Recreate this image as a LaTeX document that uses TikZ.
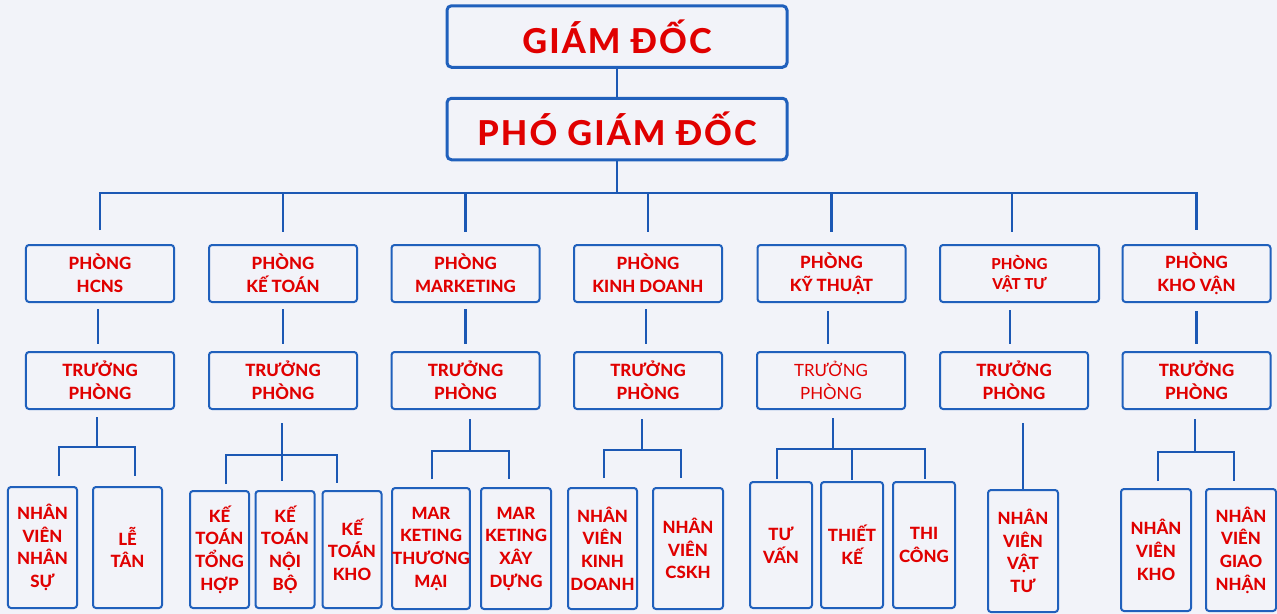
\documentclass[tikz,border=0pt]{standalone}
\usepackage{fontspec}
\setmainfont{Lato}[BoldFont={Lato Heavy}]
\usepackage{tikz}
\usetikzlibrary{math}
\usetikzlibrary{calc}

\definecolor{bgcol}{HTML}{F2F3F9}
\definecolor{boxblue}{HTML}{2060BC}
\definecolor{wireblue}{HTML}{1C58B4}
\definecolor{txtred}{HTML}{E00000}

\begin{document}
\begin{tikzpicture}[x=0.2mm,y=-0.2mm,line width=0.5mm,
  box/.style={draw=boxblue, line width=0.4mm, rounded corners=0.6mm,
    text=txtred, align=center, inner sep=0pt,
    font=\fontsize{9.6}{12.9}\selectfont\bfseries},
  topbox/.style={box, line width=0.6mm, rounded corners=0.9mm,
    minimum width=68mm, minimum height=12.3mm,
    font=\fontsize{19.5}{22}\selectfont\bfseries\addfontfeatures{LetterSpace=6}},
  deptbox/.style={box, minimum width=29.6mm, minimum height=11.4mm},
  staffbox/.style={box, minimum width=14mm, minimum height=24.2mm},
  wire/.style={draw=wireblue, line width=0.5mm}]

  \tikzmath{
    \rowone = 273.5; % centre of the departments
    \rowtwo = 380.5; % centre of the heads
    \rowkt  = 549.5; % centre of the accounting staff
    \rowmk  = 548.5; % centre of marketing and sales staff
    \rowkv  = 550;   % centre of warehouse staff
  }

  % background and frame of the page
  \fill[bgcol] (0,0) rectangle (1277,614);
  \useasboundingbox (0,0) rectangle (1277,614);

  % board
  \node[topbox] (gd)  at (617,36.5) {GIÁM ĐỐC};
  \node[topbox] (pgd) at (617,129)  {PHÓ GIÁM ĐỐC};

  % departments
  \node[deptbox] (ph1) at (100,\rowone)    {PHÒNG\\HCNS};
  \node[deptbox] (ph2) at (283,\rowone)    {PHÒNG\\KẾ TOÁN};
  \node[deptbox] (ph3) at (465.5,\rowone)  {PHÒNG\\MARKETING};
  \node[deptbox] (ph4) at (648,\rowone)    {PHÒNG\\KINH DOANH};
  \node[deptbox] (ph5) at (831.5,\rowone)  {PHÒNG\\KỸ THUẬT};
  \node[deptbox, minimum width=31.8mm, font=\fontsize{8.6}{11.5}\selectfont\bfseries]
    (ph6) at (1019.5,\rowone) {PHÒNG\\VẬT TƯ};
  \node[deptbox] (ph7) at (1196.5,\rowone) {PHÒNG\\KHO VẬN};

  % heads of department
  \node[deptbox] (tp1) at (100,\rowtwo)    {TRƯỞNG\\PHÒNG};
  \node[deptbox] (tp2) at (283,\rowtwo)    {TRƯỞNG\\PHÒNG};
  \node[deptbox] (tp3) at (465.5,\rowtwo)  {TRƯỞNG\\PHÒNG};
  \node[deptbox] (tp4) at (648,\rowtwo)    {TRƯỞNG\\PHÒNG};
  \node[deptbox, font=\fontsize{9.6}{12.9}\selectfont]
    (tp5) at (831,\rowtwo) {TRƯỞNG\\PHÒNG};
  \node[deptbox] (tp6) at (1014,\rowtwo)   {TRƯỞNG\\PHÒNG};
  \node[deptbox] (tp7) at (1196.5,\rowtwo) {TRƯỞNG\\PHÒNG};

  % staff
  \node[staffbox, minimum width=13.8mm] (nv1) at (42.5,547.5)  {NHÂN\\VIÊN\\NHÂN\\SỰ};
  \node[staffbox, minimum width=13.8mm] (lt1) at (127.5,547.5) {LỄ\\TÂN};

  \node[staffbox, minimum width=11.8mm, minimum height=23.4mm] (kt1) at (219.5,\rowkt) {KẾ\\TOÁN\\TỔNG\\HỢP};
  \node[staffbox, minimum width=11.8mm, minimum height=23.4mm] (kt2) at (285,\rowkt)   {KẾ\\TOÁN\\NỘI\\BỘ};
  \node[staffbox, minimum width=11.8mm, minimum height=23.4mm] (kt3) at (352,\rowkt)   {KẾ\\TOÁN\\KHO};

  \node[staffbox] (mk1) at (431,\rowmk) {MAR\\KETING\\THƯƠNG\\MẠI};
  \node[staffbox] (mk2) at (516,\rowmk) {MAR\\KETING\\XÂY\\DỰNG};

  \node[staffbox, minimum width=13.8mm] (kd1) at (602.5,\rowmk) {NHÂN\\VIÊN\\KINH\\DOANH};
  \node[staffbox] (kd2) at (688,\rowmk) {NHÂN\\VIÊN\\CSKH};

  \node[staffbox, minimum width=12.4mm, minimum height=25.2mm] (tv) at (781,545) {TƯ\\VẤN};
  \node[staffbox, minimum width=12.4mm, minimum height=25.2mm] (tk) at (852,545) {THIẾT\\KẾ};
  \node[staffbox, minimum width=12.4mm, minimum height=25.2mm] (tc) at (924,545) {THI\\CÔNG};

  \node[staffbox, minimum height=24.4mm] (vt1) at (1023,551) {NHÂN\\VIÊN\\VẬT\\TƯ};

  \node[staffbox, minimum height=24.4mm] (kv1) at (1156,\rowkv) {NHÂN\\VIÊN\\KHO};
  \node[staffbox, minimum height=24.4mm] (kv2) at (1241,\rowkv) {NHÂN\\VIÊN\\GIAO\\NHẬN};

  % board to departments
  \coordinate (bus) at (617,193);
  \draw[wire] (gd) -- (pgd);
  \draw[wire] (pgd) -- (bus);
  \draw[wire, shorten <=2.8mm, shorten >=2.8mm] (ph1) |- (bus) -| (ph7);
  \draw[wire, shorten >=2.4mm] (ph2.north |- bus) -- (ph2);
  \draw[wire, shorten >=2.4mm] (ph3.north |- bus) -- (ph3);
  \draw[wire, shorten >=2.4mm] (ph4.north |- bus) -- (ph4);
  \draw[wire, shorten >=2.4mm] (ph5.north |- bus) -- (ph5);
  \draw[wire, shorten >=2.4mm] ([xshift=-1.5mm]ph6.north |- bus) -- ([xshift=-1.5mm]ph6.north);

  % departments to heads
  \draw[wire, shorten <=1.2mm, shorten >=1.4mm] ([xshift=-0.4mm]tp1.north |- ph1.south) -- ([xshift=-0.4mm]tp1.north);
  \draw[wire, shorten <=1.2mm, shorten >=1.4mm] (tp2.north |- ph2.south) -- (tp2);
  \draw[wire, shorten <=1.2mm, shorten >=1.4mm] (tp3.north |- ph3.south) -- (tp3);
  \draw[wire, shorten <=1.2mm, shorten >=1.4mm] ([xshift=-0.4mm]tp4.north |- ph4.south) -- ([xshift=-0.4mm]tp4.north);
  \draw[wire, shorten <=1.6mm, shorten >=1.4mm] ([xshift=-0.6mm]tp5.north |- ph5.south) -- ([xshift=-0.6mm]tp5.north);
  \draw[wire, shorten <=1.4mm, shorten >=1.4mm] ([xshift=-0.8mm]tp6.north |- ph6.south) -- ([xshift=-0.8mm]tp6.north);
  \draw[wire, shorten <=1.6mm, shorten >=1.4mm] (tp7.north |- ph7.south) -- (tp7);

  % heads to staff
  \coordinate (s1) at (97,447);
  \draw[wire, shorten <=1.4mm] (s1 |- tp1.south) -- (s1);
  \draw[wire, shorten <=2mm, shorten >=2mm] ([xshift=3.3mm]nv1.north) |- (s1) -| ([xshift=1.5mm]lt1.north);

  \coordinate (s2) at (282,455);
  \draw[wire, shorten <=2.6mm, shorten >=1.8mm] (s2 |- tp2.south) -- (s2 |- kt2.north);
  \draw[wire, shorten <=1.2mm, shorten >=1.4mm] ([xshift=1.3mm]kt1.north) |- (s2) -| ([xshift=-3mm]kt3.north);

  \coordinate (s3) at (470,451);
  \draw[wire, shorten <=1.8mm] (s3 |- tp3.south) -- (s3);
  \draw[wire, shorten <=1.6mm, shorten >=1.6mm] ([xshift=0.2mm]mk1.north) |- (s3) -| ([xshift=-1.4mm]mk2.north);

  \coordinate (s4) at (642,450);
  \draw[wire, shorten <=1.8mm] (s4 |- tp4.south) -- (s4);
  \draw[wire, shorten <=1.8mm, shorten >=1.8mm] ([xshift=0.3mm]kd1.north) |- (s4) -| ([xshift=-1.4mm]kd2.north);

  \coordinate (s5) at (833,449);
  \draw[wire, shorten <=1.6mm] (s5 |- tp5.south) -- (s5);
  \draw[wire, shorten <=0.4mm, shorten >=0.4mm] ([xshift=-0.8mm]tv.north) |- (s5) -| ([xshift=0.2mm]tc.north);
  \draw[wire, shorten >=0.2mm] (tk.north |- s5) -- (tk);

  \draw[wire, shorten <=2.6mm] (vt1.north |- tp6.south) -- (vt1);

  \coordinate (s7) at (1195,452);
  \draw[wire, shorten <=1.8mm] (s7 |- tp7.south) -- (s7);
  \draw[wire, shorten <=1.4mm, shorten >=1.4mm] ([xshift=0.4mm]kv1.north) |- (s7) -| ([xshift=-1.4mm]kv2.north);

\end{tikzpicture}
\end{document}
